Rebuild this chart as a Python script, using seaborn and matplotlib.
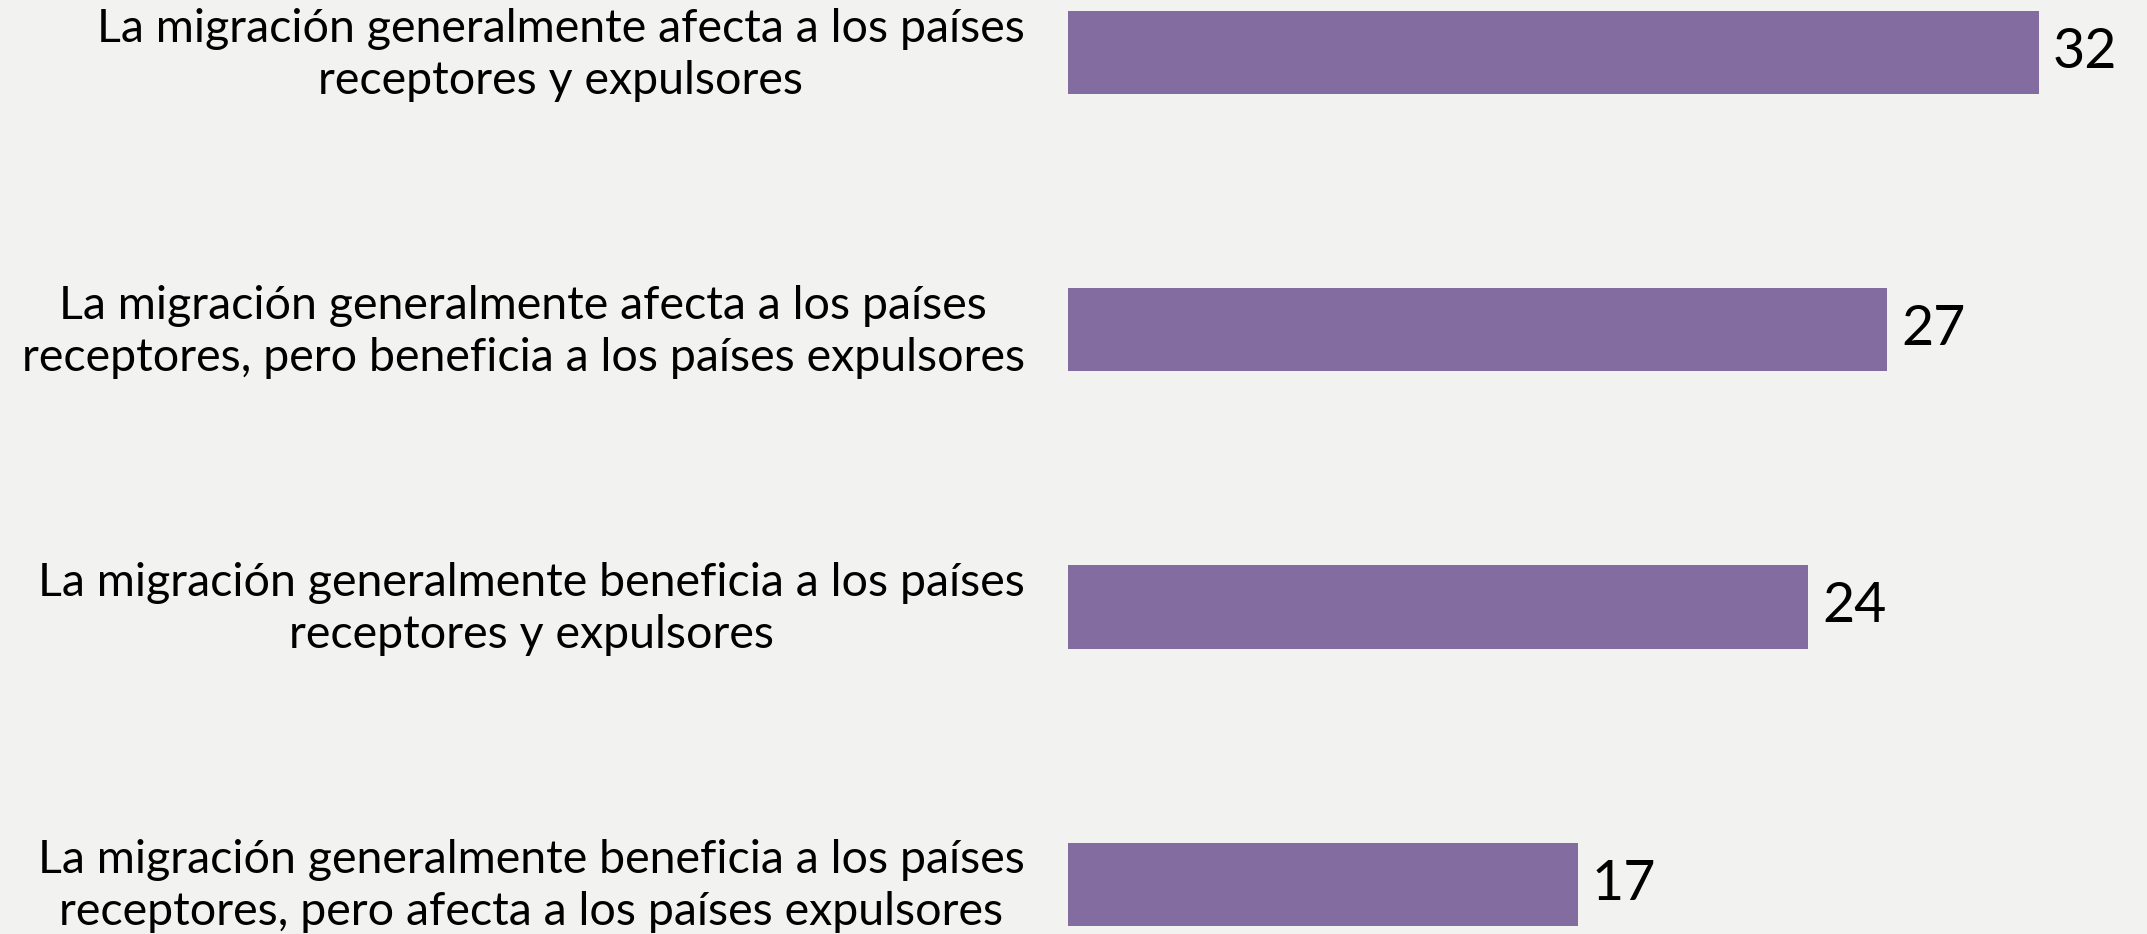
import matplotlib
matplotlib.use("Agg")
import matplotlib.pyplot as plt
import matplotlib.transforms as mtransforms
import seaborn as sns
import pandas as pd

categories = [
    "La migración generalmente afecta a los países\nreceptores y expulsores",
    "La migración generalmente afecta a los países\nreceptores, pero beneficia a los países expulsores",
    "La migración generalmente beneficia a los países\nreceptores y expulsores",
    "La migración generalmente beneficia a los países\nreceptores, pero afecta a los países expulsores",
]
values = [32.0, 27.0, 24.4, 16.8]
labels = ["32", "27", "24", "17"]

df = pd.DataFrame({"cat": categories, "val": values})

sns.set_style("white")
plt.rcParams["font.family"] = ["Lato", "DejaVu Sans"]

bg = "#F2F2F0"
fig = plt.figure(figsize=(21.47, 9.34), dpi=100, facecolor=bg)
ax = fig.add_axes([0.4974, 0.0, 0.5026, 1.0])
ax.set_facecolor(bg)

sns.barplot(data=df, x="val", y="cat", orient="h", color="#836DA0",
            saturation=1, width=0.3, linewidth=0, ax=ax)

ax.set_xlim(0, 35.56)
ax.set_ylim(3.18, -0.19)
ax.set_xlabel("")
ax.set_ylabel("")
ax.set_xticks([])
for s in ax.spines.values():
    s.set_visible(False)

ax.tick_params(axis="y", length=0, pad=31, labelsize=33.5, labelcolor="black")
# nudge labels up a little, like the original
shift = mtransforms.ScaledTranslation(0, 5 / 72, fig.dpi_scale_trans)
for t in ax.get_yticklabels():
    t.set_multialignment("center")
    t.set_linespacing(1.3)
    t.set_transform(t.get_transform() + shift)

for i, v in enumerate(values):
    ax.text(v + 0.45, i, labels[i], va="center", ha="left", fontsize=40, color="black")

fig.savefig("out.png", dpi=100, facecolor=bg)
